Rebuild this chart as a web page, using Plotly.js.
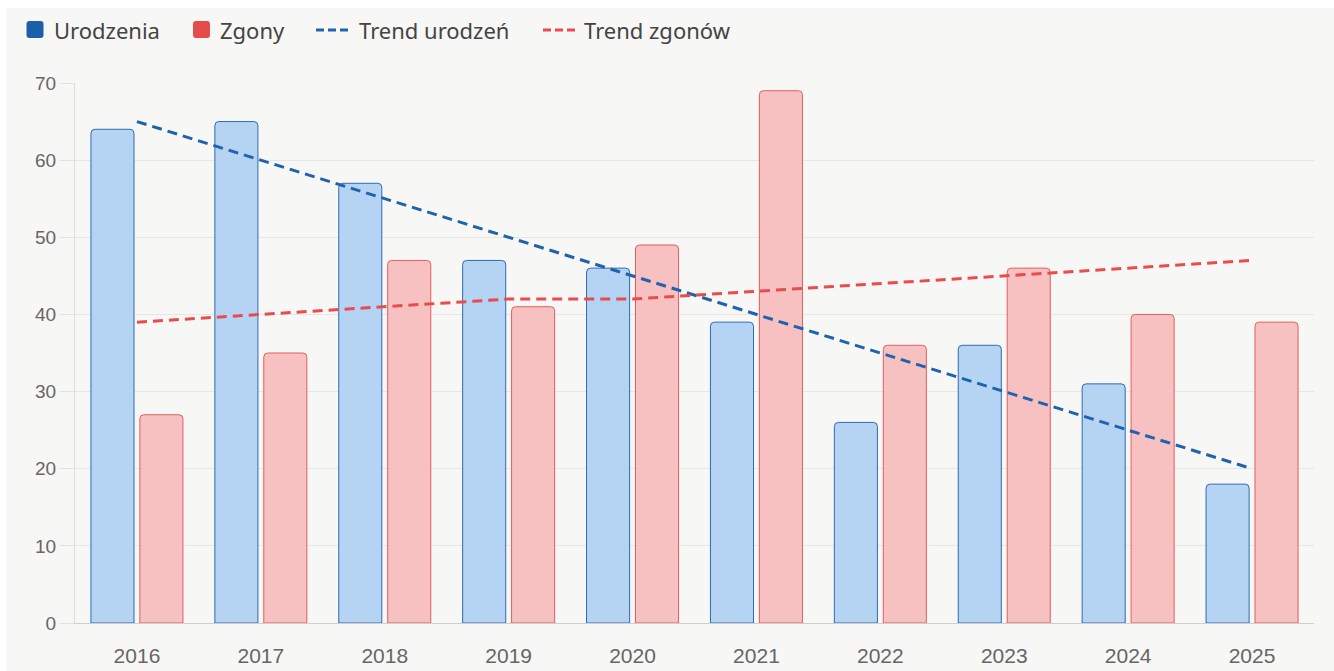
<!DOCTYPE html>
<html>
<head>
<meta charset="utf-8">
<script src="https://cdn.plot.ly/plotly-3.0.1.min.js"></script>
<style>
html,body{margin:0;padding:0;background:#ffffff;}
#chart{position:absolute;left:6px;top:8px;width:1328px;height:663px;}
</style>
</head>
<body>
<div id="chart"></div>
<script>
const years = ['2016','2017','2018','2019','2020','2021','2022','2023','2024','2025'];
const urodzenia = [64, 65, 57, 47, 46, 39, 26, 36, 31, 18];
const zgony = [27, 35, 47, 41, 49, 69, 36, 46, 40, 39];
const trendUrodzen = [65, 60, 55, 50, 45, 40, 35, 30, 25, 20];
const trendZgonow = [39, 40, 41, 42, 42, 43, 44, 45, 46, 47];
const seriesNames = ['Urodzenia', 'Zgony', 'Trend urodzeń', 'Trend zgonów'];

const blueDark = '#1b5ea9';
const redDark = '#e64b4b';
const blueLine = '#1f62ad';
const redLine = '#e84c4c';

// plot area geometry (container pixels)
const W = 1328, H = 663;
const M = {l:69, r:20, t:75, b:48};
const PW = W - M.l - M.r, PH = H - M.t - M.b;
const fx = px => (px - M.l) / PW;          // container px -> paper x
const fy = py => (H - M.b - py) / PH;      // container px -> paper y

const traces = [
  {type:'bar', x:years, y:urodzenia, name:seriesNames[0],
   marker:{color:'#b5d4f3', line:{color:'#2d6bb4', width:1}, cornerradius:4}},
  {type:'bar', x:years, y:zgony, name:seriesNames[1],
   marker:{color:'#f7c1c1', line:{color:'#e45d5d', width:1}, cornerradius:4}},
  {type:'scatter', mode:'lines', x:years, y:trendUrodzen, name:seriesNames[2],
   line:{color:blueLine, width:3, dash:'10px,6px'}},
  {type:'scatter', mode:'lines', x:years, y:trendZgonow, name:seriesNames[3],
   line:{color:redLine, width:3, dash:'10px,6px'}}
];

// custom legend (container px, offset of div: 6,8)
const legY = 22;
function roundedSquare(x0, y0, s, r, color){
  const X = v => fx(v), Y = v => fy(v);
  const p = 'M' + X(x0+r) + ',' + Y(y0) +
    ' L' + X(x0+s-r) + ',' + Y(y0) +
    ' Q' + X(x0+s) + ',' + Y(y0) + ' ' + X(x0+s) + ',' + Y(y0+r) +
    ' L' + X(x0+s) + ',' + Y(y0+s-r) +
    ' Q' + X(x0+s) + ',' + Y(y0+s) + ' ' + X(x0+s-r) + ',' + Y(y0+s) +
    ' L' + X(x0+r) + ',' + Y(y0+s) +
    ' Q' + X(x0) + ',' + Y(y0+s) + ' ' + X(x0) + ',' + Y(y0+s-r) +
    ' L' + X(x0) + ',' + Y(y0+r) +
    ' Q' + X(x0) + ',' + Y(y0) + ' ' + X(x0+r) + ',' + Y(y0) + ' Z';
  return {type:'path', xref:'paper', yref:'paper', path:p, fillcolor:color, line:{width:0}, layer:'above'};
}
function dashLine(x0, x1, color){
  return {type:'line', xref:'paper', yref:'paper', x0:fx(x0), x1:fx(x1), y0:fy(legY), y1:fy(legY),
          line:{color:color, width:3, dash:'8px,4px'}, layer:'above'};
}
function legText(x, t){
  return {xref:'paper', yref:'paper', x:fx(x), y:fy(legY), xanchor:'left', yanchor:'middle',
          text:t, showarrow:false, font:{family:'Noto Sans, sans-serif', size:22, color:'#444'}, borderpad:0};
}
const shapes = [
  roundedSquare(20.5, 13, 17, 3, blueDark),
  roundedSquare(187, 13, 17, 3, redDark),
  dashLine(310, 342, blueLine),
  dashLine(537, 569, redLine)
];
const annotations = [
  legText(47, seriesNames[0]),
  legText(213, seriesNames[1]),
  legText(352, seriesNames[2]),
  legText(577, seriesNames[3])
];

const layout = {
  width:W, height:H,
  paper_bgcolor:'#f7f7f5', plot_bgcolor:'#f7f7f5',
  margin:M,
  barmode:'group', bargap:0.21, bargroupgap:0.12,
  showlegend:false,
  shapes:shapes, annotations:annotations,
  xaxis:{type:'category', showline:true, linecolor:'#cfcfcf', linewidth:1, ticks:'', showgrid:false,
         ticklabelstandoff:14,
         tickfont:{family:'Liberation Sans, Arial, sans-serif', size:21, color:'#666'}, zeroline:false, fixedrange:true},
  yaxis:{range:[0,70], dtick:10, showgrid:true, gridcolor:'#e6e6e6', gridwidth:1,
         showline:true, linecolor:'#dddddd', ticks:'outside', ticklen:14, tickcolor:'#e2e2e2',
         tickfont:{family:'Liberation Sans, Arial, sans-serif', size:19, color:'#666'}, zeroline:false, fixedrange:true},
  hovermode:false
};

Plotly.newPlot('chart', traces, layout, {displayModeBar:false, staticPlot:true});
</script>
</body>
</html>
